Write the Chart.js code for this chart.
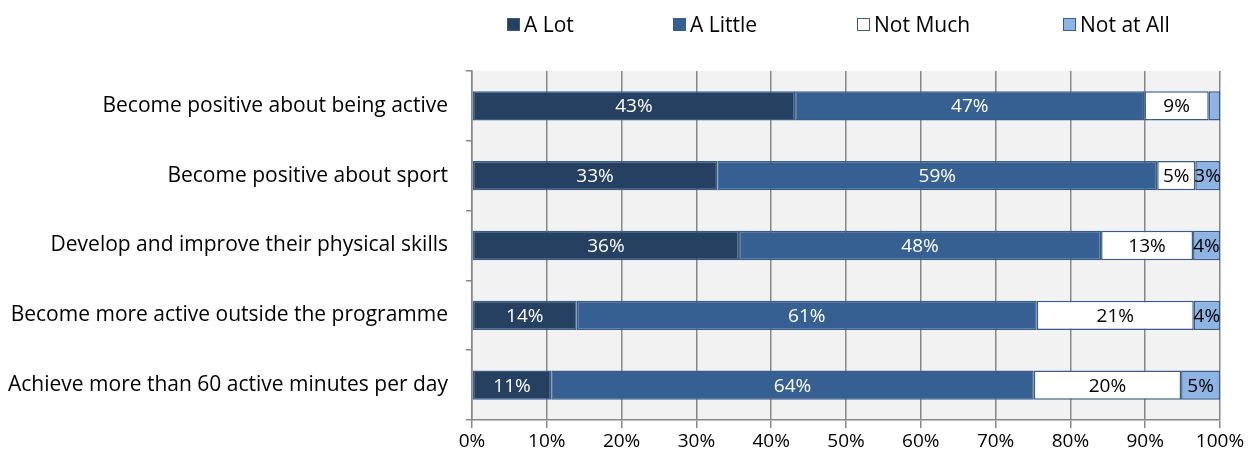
<!DOCTYPE html>
<html lang="en">
<head>
    <meta charset="UTF-8">
    <title>Programme impact</title>
    <script src="https://cdn.jsdelivr.net/npm/chart.js"></script>
    <style>
        body {
            margin: 0;
            padding: 0;
            background: #fff;
            font-family: 'Open Sans', sans-serif;
        }
        .wrap {
            position: relative;
            width: 1256px;
            height: 463px;
        }
        /* legend sits over the plot area like the original */
        .legend-item {
            position: absolute;
            top: 10px;
            display: flex;
            align-items: center;
            font-size: 21px;
            color: #000;
            white-space: nowrap;
        }
        .legend-item span.box {
            display: inline-block;
            width: 11px;
            height: 11px;
            border: 1.5px solid #385d8a;
            margin-right: 4px;
        }
    </style>
</head>
<body>
<div class="wrap">
    <div id="legend"></div>
    <canvas id="impactChart"></canvas>
</div>

<script>
const categories = [
    'Become positive about being active',
    'Become positive about sport',
    'Develop and improve their physical skills',
    'Become more active outside the programme',
    'Achieve more than 60 active minutes per day'
];

// bar lengths (percent)
const aLot = [43.2, 32.8, 35.7, 14.0, 10.6];
const aLittle = [46.7, 58.8, 48.4, 61.5, 64.5];
const notMuch = [8.6, 5.1, 12.3, 21.0, 19.7];
const notAtAll = [1.5, 3.3, 3.6, 3.5, 5.2];

// printed labels (null = no label shown)
const aLotLabels = [43, 33, 36, 14, 11];
const aLittleLabels = [47, 59, 48, 61, 64];
const notMuchLabels = [9, 5, 13, 21, 20];
const notAtAllLabels = [null, 3, 4, 4, 5];

const xTicks = [0, 10, 20, 30, 40, 50, 60, 70, 80, 90, 100];

const series = [
    { label: 'A Lot', data: aLot, labels: aLotLabels, bg: '#254061', text: '#fff', legendX: 507 },
    { label: 'A Little', data: aLittle, labels: aLittleLabels, bg: '#376092', text: '#fff', legendX: 673 },
    { label: 'Not Much', data: notMuch, labels: notMuchLabels, bg: '#ffffff', text: '#000', legendX: 857 },
    { label: 'Not at All', data: notAtAll, labels: notAtAllLabels, bg: '#8eb4e3', text: '#000', legendX: 1063 }
];

// html legend
const legendEl = document.getElementById('legend');
series.forEach(s => {
    const item = document.createElement('div');
    item.className = 'legend-item';
    item.style.left = s.legendX + 'px';
    item.innerHTML = '<span class="box" style="background:' + s.bg + '"></span>' + s.label;
    legendEl.appendChild(item);
});

const plotBackground = {
    id: 'plotBackground',
    beforeDraw(chart) {
        const { ctx, chartArea: a } = chart;
        ctx.save();
        ctx.fillStyle = '#f2f2f2';
        ctx.fillRect(a.left, a.top, a.right - a.left, a.bottom - a.top);
        ctx.restore();
    }
};

const barLabels = {
    id: 'barLabels',
    afterDatasetsDraw(chart) {
        const ctx = chart.ctx;
        ctx.save();
        ctx.font = '19px "Open Sans"';
        ctx.textAlign = 'center';
        ctx.textBaseline = 'middle';
        chart.data.datasets.forEach((ds, i) => {
            const meta = chart.getDatasetMeta(i);
            meta.data.forEach((bar, j) => {
                const v = series[i].labels[j];
                if (v === null) return;
                const p = bar.getProps(['x', 'y', 'base'], true);
                ctx.fillStyle = series[i].text;
                ctx.fillText(v + '%', (p.x + p.base) / 2, p.y + 1);
            });
        });
        ctx.restore();
    }
};

const ctx = document.getElementById('impactChart').getContext('2d');
const impactChart = new Chart(ctx, {
    type: 'bar',
    data: {
        labels: categories,
        datasets: series.map(s => ({
            label: s.label,
            data: s.data,
            backgroundColor: s.bg,
            borderColor: '#385d8a',
            borderWidth: 1.5,
            borderSkipped: false,
            barPercentage: 0.84,
            categoryPercentage: 0.5
        }))
    },
    options: {
        indexAxis: 'y',
        responsive: true,
        maintainAspectRatio: false,
        animation: false,
        layout: {
            padding: { top: 71, right: 36, bottom: 0, left: 0 }
        },
        plugins: {
            legend: { display: false },
            tooltip: { enabled: false }
        },
        scales: {
            x: {
                stacked: true,
                min: 0,
                max: 100,
                afterBuildTicks: s => { s.ticks = xTicks.map(v => ({ value: v })); },
                ticks: {
                    color: '#000',
                    font: { family: 'Open Sans', size: 19 },
                    padding: 2,
                    callback: v => v + '%'
                },
                grid: {
                    color: '#878787',
                    lineWidth: 1.5,
                    tickLength: 8
                },
                border: { display: true, color: '#878787', width: 1.5 },
                afterFit: s => { s.height = 43; }
            },
            y: {
                stacked: true,
                ticks: {
                    color: '#000',
                    font: { family: 'Open Sans', size: 21 },
                    padding: 18
                },
                grid: {
                    drawOnChartArea: false,
                    drawTicks: true,
                    tickLength: 6,
                    color: '#878787',
                    lineWidth: 1.5
                },
                border: { display: true, color: '#878787', width: 1.5 },
                afterFit: s => { s.width = 472; }
            }
        }
    },
    plugins: [plotBackground, barLabels]
});
</script>
</body>
</html>
